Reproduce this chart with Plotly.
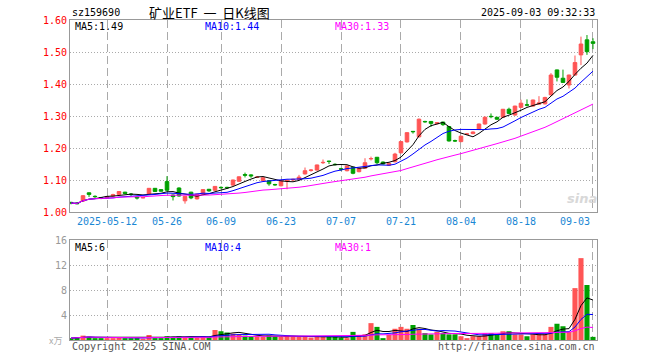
import plotly.graph_objects as go
import pandas as pd

dates = [
    "2025-04-29", "2025-04-30", "2025-05-06", "2025-05-07", "2025-05-08", "2025-05-09",
    "2025-05-12", "2025-05-13", "2025-05-14", "2025-05-15", "2025-05-16",
    "2025-05-19", "2025-05-20", "2025-05-21", "2025-05-22", "2025-05-23",
    "2025-05-26", "2025-05-27", "2025-05-28", "2025-05-29", "2025-05-30",
    "2025-06-03", "2025-06-04", "2025-06-05", "2025-06-06",
    "2025-06-09", "2025-06-10", "2025-06-11", "2025-06-12", "2025-06-13",
    "2025-06-16", "2025-06-17", "2025-06-18", "2025-06-19", "2025-06-20",
    "2025-06-23", "2025-06-24", "2025-06-25", "2025-06-26", "2025-06-27",
    "2025-06-30", "2025-07-01", "2025-07-02", "2025-07-03", "2025-07-04",
    "2025-07-07", "2025-07-08", "2025-07-09", "2025-07-10", "2025-07-11",
    "2025-07-14", "2025-07-15", "2025-07-16", "2025-07-17", "2025-07-18",
    "2025-07-21", "2025-07-22", "2025-07-23", "2025-07-24", "2025-07-25",
    "2025-07-28", "2025-07-29", "2025-07-30", "2025-07-31", "2025-08-01",
    "2025-08-04", "2025-08-05", "2025-08-06", "2025-08-07", "2025-08-08",
    "2025-08-11", "2025-08-12", "2025-08-13", "2025-08-14", "2025-08-15",
    "2025-08-18", "2025-08-19", "2025-08-20", "2025-08-21", "2025-08-22",
    "2025-08-25", "2025-08-26", "2025-08-27", "2025-08-28", "2025-08-29",
    "2025-09-01", "2025-09-02", "2025-09-03",
]

open_ = [1.030, 1.028, 1.034, 1.060, 1.049, 1.045, 1.044, 1.050, 1.055, 1.062,
         1.056, 1.047, 1.044, 1.056, 1.074, 1.070, 1.095, 1.053, 1.075, 1.035,
         1.062, 1.041, 1.056, 1.071, 1.068, 1.077, 1.077, 1.084, 1.096, 1.117,
         1.116, 1.108, 1.098, 1.098, 1.086, 1.082, 1.097, 1.100, 1.102, 1.119,
         1.130, 1.131, 1.154, 1.159, 1.149, 1.135, 1.129, 1.140, 1.126, 1.137,
         1.166, 1.171, 1.156, 1.146, 1.157, 1.185, 1.219, 1.252, 1.235, 1.283,
         1.283, 1.276, 1.281, 1.267, 1.223, 1.220, 1.243, 1.245, 1.258, 1.275,
         1.299, 1.296, 1.296, 1.321, 1.303, 1.327, 1.335, 1.331, 1.337, 1.338,
         1.366, 1.444, 1.418, 1.397, 1.428, 1.491, 1.538, 1.532]
high = [1.032, 1.031, 1.053, 1.061, 1.052, 1.047, 1.050, 1.057, 1.065, 1.063,
        1.059, 1.048, 1.047, 1.075, 1.075, 1.071, 1.112, 1.055, 1.077, 1.050,
        1.063, 1.057, 1.071, 1.072, 1.081, 1.080, 1.079, 1.101, 1.111, 1.123,
        1.118, 1.112, 1.108, 1.099, 1.088, 1.099, 1.101, 1.104, 1.116, 1.139,
        1.134, 1.148, 1.164, 1.160, 1.152, 1.138, 1.145, 1.141, 1.138, 1.168,
        1.173, 1.172, 1.158, 1.154, 1.185, 1.221, 1.249, 1.253, 1.292, 1.285,
        1.284, 1.281, 1.282, 1.268, 1.226, 1.238, 1.247, 1.252, 1.276, 1.299,
        1.308, 1.297, 1.322, 1.326, 1.332, 1.351, 1.352, 1.351, 1.362, 1.360,
        1.434, 1.445, 1.445, 1.429, 1.489, 1.548, 1.553, 1.543]
low = [1.024, 1.024, 1.032, 1.047, 1.044, 1.040, 1.042, 1.049, 1.054, 1.056,
       1.050, 1.039, 1.043, 1.055, 1.063, 1.064, 1.066, 1.036, 1.048, 1.026,
       1.040, 1.039, 1.055, 1.063, 1.066, 1.073, 1.072, 1.082, 1.094, 1.108,
       1.107, 1.106, 1.097, 1.082, 1.082, 1.080, 1.071, 1.096, 1.100, 1.117,
       1.126, 1.130, 1.150, 1.150, 1.145, 1.128, 1.127, 1.118, 1.124, 1.135,
       1.161, 1.149, 1.148, 1.144, 1.155, 1.183, 1.217, 1.245, 1.233, 1.279,
       1.266, 1.274, 1.269, 1.220, 1.219, 1.218, 1.241, 1.243, 1.256, 1.273,
       1.293, 1.288, 1.294, 1.306, 1.301, 1.325, 1.330, 1.329, 1.335, 1.336,
       1.364, 1.408, 1.403, 1.386, 1.426, 1.459, 1.491, 1.509]
close = [1.028, 1.026, 1.051, 1.055, 1.048, 1.043, 1.048, 1.054, 1.064, 1.058,
         1.055, 1.044, 1.045, 1.074, 1.064, 1.065, 1.068, 1.048, 1.050, 1.049,
         1.044, 1.056, 1.070, 1.066, 1.080, 1.076, 1.076, 1.100, 1.110, 1.115,
         1.113, 1.109, 1.107, 1.088, 1.085, 1.098, 1.099, 1.102, 1.109, 1.129,
         1.131, 1.147, 1.155, 1.158, 1.148, 1.134, 1.144, 1.121, 1.137, 1.154,
         1.167, 1.154, 1.150, 1.152, 1.181, 1.220, 1.248, 1.251, 1.290, 1.282,
         1.277, 1.279, 1.273, 1.222, 1.222, 1.237, 1.244, 1.250, 1.275, 1.296,
         1.298, 1.290, 1.321, 1.308, 1.331, 1.340, 1.334, 1.350, 1.341, 1.358,
         1.428, 1.421, 1.405, 1.428, 1.467, 1.525, 1.501, 1.527]
# volume in 万手
volume = [0.3, 0.4, 0.7, 0.5, 0.3, 0.3, 0.3, 0.3, 0.4, 0.3,
          0.3, 0.4, 0.2, 0.8, 0.3, 0.3, 0.6, 0.5, 0.6, 0.5,
          0.5, 0.4, 0.6, 0.5, 1.6, 1.4, 1.2, 1.0, 0.9, 0.7,
          0.6, 0.6, 0.5, 0.7, 0.6, 0.5, 0.7, 0.6, 0.5, 0.6,
          0.4, 0.6, 0.5, 0.5, 0.5, 0.4, 0.3, 1.3, 0.8, 0.9,
          2.7, 2.1, 0.3, 0.8, 1.8, 2.1, 1.8, 2.4, 1.8, 1.1,
          0.9, 1.3, 1.1, 0.9, 0.9, 0.6, 0.3, 0.6, 0.6, 1.1,
          1.1, 0.9, 1.4, 1.4, 0.9, 0.9, 0.6, 0.9, 0.9, 0.9,
          2.1, 2.6, 2.2, 1.3, 8.3, 13.1, 8.8, 0.5]

tick_dates = ["2025-05-12", "2025-05-26", "2025-06-09", "2025-06-23", "2025-07-07",
              "2025-07-21", "2025-08-04", "2025-08-18", "2025-09-03"]
tick_labels = ["2025-05-12", "05-26", "06-09", "06-23", "07-07",
               "07-21", "08-04", "08-18", "09-03"]
price_ticks = [1.00, 1.10, 1.20, 1.30, 1.40, 1.50, 1.60]
vol_ticks = [4, 8, 12, 16]
ma_text_price = ["MA5:1.49", "MA10:1.44", "MA30:1.33"]
ma_text_vol = ["MA5:6", "MA10:4", "MA30:1"]

RED = "#ff5555"
GREEN = "#00a000"
MA_COLORS = ["#000000", "#0000ff", "#ff00ff"]
GRID = "#aaaaaa"
BORDER = "#999999"
MONO = "DejaVu Sans Mono"

idx = list(range(len(dates)))
cs = pd.Series(close)
vs = pd.Series(volume)
ma_p = [cs.rolling(n, min_periods=1).mean() for n in (5, 10, 30)]
ma_v = [vs.rolling(n, min_periods=1).mean() for n in (5, 10, 30)]
vol_colors = [RED if c >= o else GREEN for o, c in zip(open_, close)]

fig = go.Figure()
fig.add_trace(go.Candlestick(
    x=idx, open=open_, high=high, low=low, close=close,
    increasing=dict(line=dict(color=RED, width=1), fillcolor=RED),
    decreasing=dict(line=dict(color=GREEN, width=1), fillcolor=GREEN),
    whiskerwidth=0, xaxis="x", yaxis="y", showlegend=False, hoverinfo="skip"))
for m, col in zip(ma_p, MA_COLORS):
    fig.add_trace(go.Scatter(x=idx, y=m, mode="lines", line=dict(color=col, width=1),
                             xaxis="x", yaxis="y", showlegend=False, hoverinfo="skip"))
fig.add_trace(go.Bar(x=idx, y=volume, marker=dict(color=vol_colors, line=dict(width=0)),
                     xaxis="x2", yaxis="y2", showlegend=False, hoverinfo="skip"))
for m, col in zip(ma_v, MA_COLORS):
    fig.add_trace(go.Scatter(x=idx, y=m, mode="lines", line=dict(color=col, width=1),
                             xaxis="x2", yaxis="y2", showlegend=False, hoverinfo="skip"))

tick_idx = [dates.index(d) for d in tick_dates]
xr = [-0.17, len(dates) - 0.33]
axis_common = dict(showline=True, linecolor=BORDER, linewidth=1, mirror=True,
                   zeroline=False, ticks="", showgrid=True, gridcolor=GRID, gridwidth=1,
                   automargin=False)

fig.update_layout(
    width=660, height=360,
    margin=dict(l=70, r=63, t=20, b=20),
    paper_bgcolor="white", plot_bgcolor="white",
    bargap=0.15, boxgap=0.15,
    hovermode=False,
    font=dict(family=MONO, size=10, color="#000000"),
    xaxis=dict(domain=[0, 1], range=xr, tickvals=tick_idx, showticklabels=False,
               griddash="8px,4px", anchor="y", rangeslider=dict(visible=False),
               **axis_common),
    yaxis=dict(domain=[0.4, 1], range=[1.0, 1.6], tickvals=price_ticks,
               ticktext=[f"{v:.2f}" for v in price_ticks],
               tickfont=dict(color="#ff0000", family=MONO, size=10),
               griddash="1px,2px", anchor="x", **axis_common),
    xaxis2=dict(domain=[0, 1], range=xr, tickvals=tick_idx, showticklabels=False,
                griddash="8px,4px", anchor="y2", matches="x", **axis_common),
    yaxis2=dict(domain=[0, 0.3125], range=[0, 16], tickvals=vol_ticks,
                ticktext=[str(v) for v in vol_ticks],
                tickfont=dict(color="#999999", family=MONO, size=10),
                griddash="1px,2px", anchor="x2", **axis_common),
)

ann = []
# header
ann.append(dict(text="sz159690", x=70, y=13, showarrow=False,
                xanchor="left", yanchor="middle", font=dict(family=MONO, size=10)))
ann.append(dict(text="矿业ETF  一  日K线图", x=209, y=13, showarrow=False,
                xanchor="center", yanchor="middle",
                font=dict(family="Noto Sans CJK SC", size=13)))
ann.append(dict(text="2025-09-03 09:32:33", x=597, y=13, showarrow=False,
                xanchor="right", yanchor="middle", font=dict(family=MONO, size=10)))
# MA labels
for txt, col, xp in zip(ma_text_price, MA_COLORS, [73, 203, 333]):
    ann.append(dict(text=txt, x=xp, y=26, showarrow=False, xanchor="left", yanchor="middle",
                    font=dict(family=MONO, size=10, color=col)))
for txt, col, xp in zip(ma_text_vol, MA_COLORS, [73, 203, 333]):
    ann.append(dict(text=txt, x=xp, y=247, showarrow=False, xanchor="left", yanchor="middle",
                    font=dict(family=MONO, size=10, color=col)))
# x labels
for i, (t, lab) in enumerate(zip(tick_idx, tick_labels)):
    last = i == len(tick_idx) - 1
    ann.append(dict(text=lab, x=t, xref="x", y=221, showarrow=False,
                    xanchor="right" if last else "center", yanchor="middle",
                    xshift=-1 if last else 0,
                    font=dict(family=MONO, size=10, color="#1a87d4")))
# volume unit
ann.append(dict(text="x万", x=64, y=340, showarrow=False, xanchor="right", yanchor="middle",
                font=dict(family="Noto Sans CJK SC", size=9, color="#aaaaaa")))
# footer
ann.append(dict(text="Copyright 2025 SINA.COM", x=70, y=346, showarrow=False,
                xanchor="left", yanchor="middle", font=dict(family=MONO, size=10, color="#555555")))
ann.append(dict(text="http://finance.sina.com.cn", x=597, y=346, showarrow=False,
                xanchor="right", yanchor="middle", font=dict(family=MONO, size=10, color="#555555")))
# watermark
ann.append(dict(text="<b><i>sina</i></b>", x=582, y=198, showarrow=False,
                xanchor="center", yanchor="middle",
                font=dict(family="DejaVu Sans", size=13, color="#d8d8d8")))

# convert pixel coords to paper coords for annotations not on data axes
W, H = 660, 360
L, R, T, B = 70, 63, 20, 20
pw, ph = W - L - R, H - T - B
for a in ann:
    if a.get("xref") != "x":
        a["x"] = (a["x"] - L) / pw
        a["xref"] = "paper"
    a["y"] = (H - B - a["y"]) / ph
    a["yref"] = "paper"
fig.update_layout(annotations=ann)

fig.write_html("out.html", config={"displayModeBar": False, "staticPlot": True},
               post_script="document.body.style.margin='0px';document.body.style.padding='0px';")
